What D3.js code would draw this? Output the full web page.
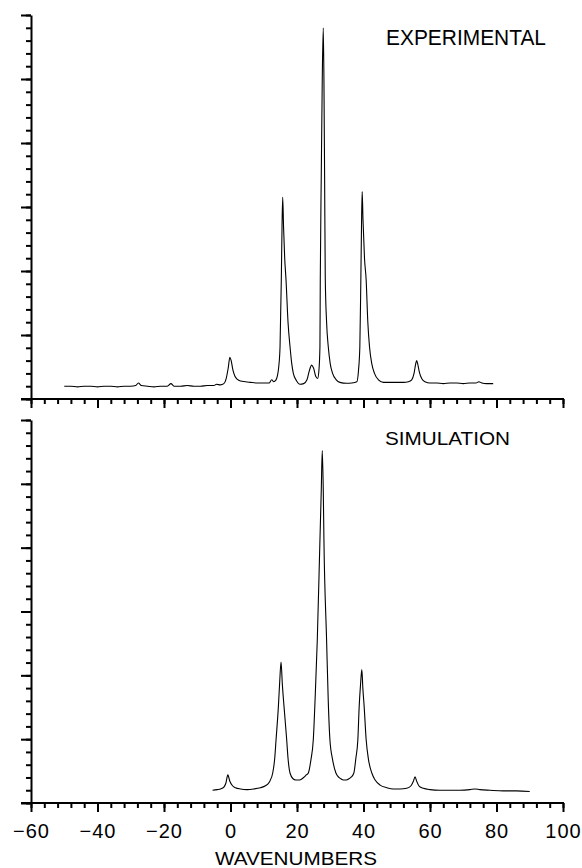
<!DOCTYPE html>
<html><head><meta charset="utf-8">
<script src="https://cdn.jsdelivr.net/npm/d3@7"></script>
<style>body{margin:0;background:#fff}svg{display:block}</style>
</head><body>
<svg id="c" width="582" height="868"></svg>
<script>
// ---- data (y in units of major y ticks) ----
const expX = [-50,-48,-46,-44,-42,-40,-38,-36,-34,-32,-30,-28.5,-27.7,-26.8,-25,-23,-21,-19,-17.9,-17,-15,-13,-11,-9,-7,-5,-4.2,-3,-2,-1.3,-0.7,-0.2,0.2,0.7,1.3,2,3,4.5,6,8,10,11.6,12.4,13,13.6,14.1,14.5,14.9,15.28,15.5,15.7,15.95,16.3,16.7,17.3,17.9,18.4,18.9,19.8,20.9,22,23,23.7,24.4,25,25.6,26.2,26.6,26.9,27.0,27.3,27.6,27.9,28.1,28.3,28.5,28.9,29.4,30.0,30.7,31.8,32.9,34.9,36.5,38.0,38.5,38.9,39.2,39.4,39.6,39.85,40.3,40.8,41.3,41.8,42.5,43.3,44.5,46,48,50,52,53.5,54.5,55.2,55.7,56,56.3,56.8,57.5,58.5,60,62,64,66,68,70,72,73.8,74.7,75.6,77,79];
const expY = [0.20,0.20,0.19,0.20,0.20,0.19,0.20,0.20,0.19,0.20,0.20,0.21,0.25,0.21,0.20,0.19,0.20,0.20,0.24,0.20,0.20,0.21,0.20,0.20,0.21,0.21,0.23,0.22,0.24,0.32,0.48,0.65,0.60,0.46,0.36,0.31,0.28,0.27,0.26,0.25,0.25,0.25,0.30,0.27,0.29,0.36,0.50,0.82,1.86,2.7,3.15,2.7,2.2,1.86,1.2,0.82,0.56,0.40,0.29,0.23,0.24,0.30,0.44,0.53,0.48,0.36,0.32,0.45,0.82,1.86,3.5,5.0,5.8,5.0,3.5,1.9,1.2,0.82,0.55,0.40,0.30,0.26,0.245,0.25,0.27,0.45,0.82,1.86,2.7,3.24,2.8,2.2,1.86,1.2,0.82,0.55,0.40,0.30,0.26,0.26,0.26,0.26,0.27,0.30,0.40,0.55,0.60,0.55,0.42,0.32,0.27,0.25,0.25,0.24,0.25,0.25,0.24,0.25,0.25,0.27,0.25,0.24,0.24];

const simX = [-5.4,-4,-3,-2,-1.4,-0.8,-0.2,0.6,1.5,3,5,7,9,10.5,11.7,12.7,13.3,13.7,14.4,14.8,15.2,15.6,16.1,16.9,17.3,17.9,18.8,19.6,20.4,21.2,22.0,22.8,23.4,24.2,24.9,25.5,26.1,26.9,27.3,27.6,27.9,28.1,28.9,29.4,29.9,30.7,31.7,32.6,33.5,34.4,35.3,36.2,37.1,37.7,38.3,38.7,39.1,39.5,39.8,40.2,40.8,41.5,42.5,43.5,45,47,49,51,53,54.3,55,55.5,56,56.8,58,60,63,66,69,72,73.5,75,78,82,86,90];
const simY = [0.20,0.21,0.22,0.25,0.31,0.44,0.34,0.27,0.24,0.22,0.21,0.22,0.24,0.27,0.33,0.47,0.70,0.99,1.51,1.9,2.21,1.85,1.51,0.99,0.70,0.47,0.38,0.36,0.36,0.37,0.40,0.44,0.47,0.68,0.99,1.7,2.55,4.12,4.9,5.52,4.9,4.12,2.55,1.6,0.99,0.68,0.47,0.40,0.37,0.36,0.37,0.40,0.47,0.70,0.99,1.51,1.85,2.09,1.80,1.51,0.99,0.68,0.47,0.36,0.28,0.24,0.22,0.22,0.23,0.27,0.34,0.41,0.34,0.26,0.23,0.21,0.20,0.20,0.20,0.21,0.22,0.21,0.20,0.19,0.19,0.18];

const xMajorTicks = [-60,-40,-20,0,20,40,60,80,100];
const xTickLabels = ["\u221260","\u221240","\u221220","0","20","40","60","80","100"];
const xMinorTicks = d3.range(-60, 100.01, 4);
const yMajorTicks = [0,1,2,3,4,5,6];
const yMinorTicks = d3.range(0, 6.001, 0.2);
const panelTitles = ["EXPERIMENTAL","SIMULATION"];
const xTitle = "WAVENUMBERS";

// ---- layout ----
const svg = d3.select("#c");
const x = d3.scaleLinear().domain([-60,100]).range([31,563]);
const yTop = d3.scaleLinear().domain([0,6]).range([399,15]);
const yBot = d3.scaleLinear().domain([0,6]).range([803,420]);
const FONT = "'Liberation Sans', Arial, sans-serif";

function drawPanel(y, xs, ys, title, titleOpts, withLabels) {
  const g = svg.append("g");
  const yPos = y.range()[0];
  const xMin = g.append("g").attr("transform",`translate(0,${yPos})`)
    .call(d3.axisBottom(x).tickValues(xMinorTicks).tickSize(5).tickFormat(""));
  const xMaj = g.append("g").attr("transform",`translate(0,${yPos})`)
    .call(d3.axisBottom(x).tickValues(xMajorTicks).tickSize(9).tickSizeOuter(0)
      .tickFormat((d,i)=> withLabels ? xTickLabels[i] : ""));
  const yMin = g.append("g").attr("transform",`translate(${x(-60)},0)`)
    .call(d3.axisLeft(y).tickValues(yMinorTicks).tickSize(5).tickFormat(""));
  const yMaj = g.append("g").attr("transform",`translate(${x(-60)},0)`)
    .call(d3.axisLeft(y).tickValues(yMajorTicks).tickSize(10).tickSizeOuter(0).tickFormat(""));
  [xMin,xMaj,yMin,yMaj].forEach(a=>{
    a.selectAll("path.domain").attr("stroke","#000").attr("stroke-width",2);
    a.selectAll(".tick line").attr("stroke","#000").attr("stroke-width",2);
  });
  xMin.select("path.domain").remove();
  yMin.select("path.domain").remove();
  xMaj.select("path.domain").remove();
  g.append("line").attr("x1",x(-60)-10).attr("x2",x(100)+1).attr("y1",yPos).attr("y2",yPos)
    .attr("stroke","#000").attr("stroke-width",2);
  if (withLabels) {
    xMaj.selectAll(".tick text").attr("font-family",FONT).attr("font-size",20)
      .attr("fill","#000").attr("y",21).attr("dy","0.71em").attr("letter-spacing",1);
  }
  const pts = xs.map((v,i)=>[v,ys[i]]);
  g.append("path").datum(pts)
    .attr("fill","none").attr("stroke","#000").attr("stroke-width",1.1)
    .attr("d", d3.line().x(d=>x(d[0])).y(d=>y(d[1])).curve(d3.curveMonotoneX));
  g.append("text").text(title).attr("x",titleOpts.x).attr("y",titleOpts.y)
    .attr("font-family",FONT).attr("font-size",titleOpts.size).attr("fill","#000")
    .attr("textLength",titleOpts.len).attr("lengthAdjust","spacingAndGlyphs");
}

drawPanel(yTop, expX, expY, panelTitles[0], {x:386, y:45, size:22, len:160}, false);
drawPanel(yBot, simX, simY, panelTitles[1], {x:385, y:445, size:18.5, len:125}, true);

svg.append("text").text(xTitle).attr("x",215).attr("y",865)
  .attr("font-family",FONT).attr("font-size",18.5).attr("fill","#000")
  .attr("textLength",162).attr("lengthAdjust","spacingAndGlyphs");
</script>
</body></html>
